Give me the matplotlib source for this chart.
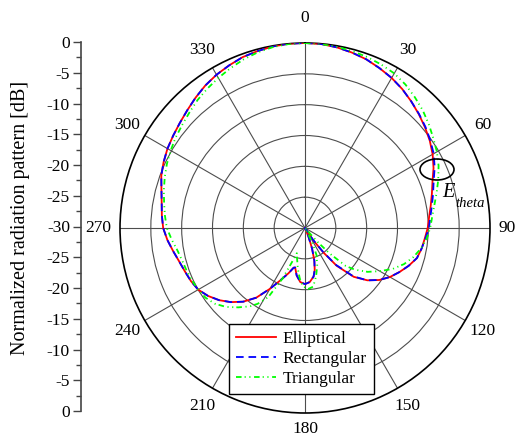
import numpy as np
import matplotlib
matplotlib.use("Agg")
import matplotlib.pyplot as plt
from matplotlib.patches import Ellipse
from matplotlib.ticker import MultipleLocator, FixedLocator, FixedFormatter

plt.rcParams['font.family'] = ['Liberation Serif', 'DejaVu Serif']
plt.rcParams['lines.scale_dashes'] = False

# ---- normalized radiation patterns (E_theta cut), angle in degrees, level in dB ----
theta_ell = [0, 5, 10, 15, 20, 25, 30, 35, 40, 45, 50, 55, 60, 65, 70, 75, 80, 85, 90,
             95, 100, 105, 110, 115, 120, 125, 130, 135, 140, 143, 146, 150, 155, 158,
             161, 164, 167, 170, 175, 180, 185, 190, 194, 196, 200, 205, 210, 215, 220,
             225, 230, 235, 240, 245, 250, 255, 260, 265, 270, 275, 280, 285, 290, 295,
             300, 305, 310, 315, 320, 325, 330, 335, 340, 345, 350, 355, 360]
db_ell = [0.0, -0.05, -0.25, -0.55, -0.9, -1.4, -1.9, -2.5, -3.2, -3.9, -4.6, -5.3, -6.1,
          -7.0, -8.0, -8.7, -9.3, -9.8, -10.1, -10.5, -10.8, -11.2, -12.1, -13.1, -14.1,
          -15.3, -16.8, -18.8, -22.0, -25.0, -27.5, -30.0, -30.0, -28.5, -26.5, -24.5,
          -23.0, -22.0, -21.2, -20.9, -21.2, -22.2, -23.4, -23.3, -22.2, -20.7, -18.6,
          -16.2, -14.4, -13.0, -11.8, -10.8, -10.0, -9.6, -9.3, -8.9, -8.3, -7.6, -7.0,
          -6.7, -6.4, -5.9, -5.2, -4.7, -4.25, -3.9, -3.5, -3.0, -2.4, -1.8, -1.3, -0.9,
          -0.5, -0.3, -0.1, 0.0, 0.0]

theta_rect = theta_ell
db_rect = [0.0, -0.05, -0.25, -0.55, -0.9, -1.4, -1.9, -2.5, -3.2, -3.85, -4.5, -5.2, -5.9,
           -6.8, -7.8, -8.5, -9.1, -9.6, -9.9, -10.4, -10.8, -11.2, -12.1, -13.1, -14.1,
           -15.3, -16.8, -18.9, -22.2, -25.2, -27.8, -30.0, -30.0, -28.5, -26.5, -24.5,
           -23.0, -22.0, -21.2, -20.9, -21.2, -22.2, -23.4, -23.3, -22.2, -20.7, -18.6,
           -16.2, -14.4, -13.0, -11.8, -10.8, -10.0, -9.6, -9.3, -8.9, -8.3, -7.6, -7.0,
           -6.7, -6.4, -5.9, -5.2, -4.7, -4.25, -3.9, -3.5, -3.0, -2.4, -1.8, -1.3, -0.9,
           -0.5, -0.3, -0.1, 0.0, 0.0]

theta_tri = [0, 5, 10, 15, 20, 25, 30, 35, 40, 45, 50, 55, 60, 65, 70, 75, 80, 85, 90,
             95, 100, 105, 110, 115, 120, 125, 130, 133, 136, 138, 140, 150, 153, 157,
             162, 167, 172, 177, 182, 186, 190, 195, 198, 201, 204, 208, 212, 215, 220,
             225, 230, 235, 240, 245, 250, 255, 260, 265, 270, 275, 280, 285, 290, 295,
             300, 305, 310, 315, 320, 325, 330, 335, 340, 345, 350, 355, 360]
db_tri = [0.0, -0.05, -0.15, -0.3, -0.5, -0.75, -1.05, -1.6, -2.3, -3.0, -3.8, -4.6, -5.3,
          -6.1, -7.0, -7.9, -8.7, -9.3, -9.7, -10.2, -10.9, -11.8, -12.9, -14.3, -16.0,
          -17.6, -19.5, -21.0, -24.3, -27.0, -30.0, -30.0, -27.5, -25.2, -23.6, -22.0,
          -20.4, -20.1, -20.5, -21.8, -23.3, -25.0, -25.7, -24.0, -21.0, -17.3, -15.5,
          -14.5, -13.2, -11.9, -10.9, -10.3, -10.0, -9.8, -9.6, -9.4, -9.0, -8.3, -7.6,
          -7.2, -6.8, -6.3, -5.8, -5.3, -4.85, -4.4, -4.0, -3.5, -2.9, -2.4, -1.9, -1.4,
          -0.9, -0.5, -0.2, -0.05, 0.0]

angle_ticks = list(range(0, 360, 30))
ring_levels = [-25, -20, -15, -10, -5]
scale_ticks = list(range(-30, 31, 5))
scale_labels = [str(abs(v) - 30) for v in scale_ticks]

W, H = 517, 437
fig = plt.figure(figsize=(W / 100, H / 100), dpi=100)

# ---- polar pattern ----
ax = fig.add_axes([120 / W, 24 / H, 370 / W, 370 / H], projection='polar')
ax.set_theta_zero_location('N')
ax.set_theta_direction(-1)
ax.set_rlim(-30, 0)

ax.plot(np.deg2rad(theta_ell), db_ell, color='#ff0000', lw=1.3, label='Elliptical', zorder=3)
ax.plot(np.deg2rad(theta_rect), db_rect, color='#0000ff', lw=1.3,
        dashes=(5.5, 3.5), label='Rectangular', zorder=4)
ax.plot(np.deg2rad(theta_tri), db_tri, color='#00ff00', lw=1.3,
        dashes=(4.0, 2.2, 0.8, 2.6, 0.8, 2.6), label='Triangular', zorder=5)

ax.set_thetagrids(angle_ticks, labels=[''] * len(angle_ticks))
ax.set_xticks(np.deg2rad(np.arange(0, 360, 15)), minor=True)
ax.tick_params(axis='x', which='both', direction='in', length=5, width=1, color='black')
ax.xaxis.grid(False, which='minor')
ax.set_rgrids(ring_levels, labels=[''] * len(ring_levels))
ax.tick_params(axis='y', length=0)
ax.grid(True, color='#4d4d4d', lw=0.8)
ax.spines['polar'].set_linewidth(1.2)
ax.spines['polar'].set_color('black')

# angle labels sit just outside the 0 dB circle
label_offset = {0: 4.0, 90: 2.75, 180: 2.6, 270: 3.5}
for a in angle_ticks:
    ax.text(np.deg2rad(a), label_offset.get(a, 3.3), str(a), ha='center', va='center',
            fontsize=12.5, clip_on=False)

leg = ax.legend(loc='upper left', bbox_to_anchor=(229 / W, 1 - 324 / H),
                bbox_transform=fig.transFigure, fontsize=12.5, frameon=True,
                fancybox=False, framealpha=1, edgecolor='black', borderpad=0.4,
                labelspacing=0.22, handlelength=2.3, handletextpad=0.4,
                borderaxespad=0)
leg.get_frame().set_linewidth(1.0)

# ---- linear dB scale on the left ----
sax = fig.add_axes([81 / W, 26 / H, 0.0001, 369 / H])
sax.set_ylim(-30, 30)
sax.yaxis.set_major_locator(FixedLocator(scale_ticks))
sax.yaxis.set_major_formatter(FixedFormatter(scale_labels))
sax.yaxis.set_minor_locator(MultipleLocator(2.5))
sax.tick_params(axis='y', which='major', length=6, width=1, pad=2, labelsize=12.5,
                color='#444444')
sax.tick_params(axis='y', which='minor', length=3.5, width=1, color='#444444')
sax.set_xticks([])
for s in ('top', 'right', 'bottom'):
    sax.spines[s].set_visible(False)
sax.spines['left'].set_color('#444444')
sax.spines['left'].set_linewidth(1.2)
sax.patch.set_visible(False)

fig.text(21 / W, 1 - 217.5 / H, 'Normalized radiation pattern [dB]', rotation=90,
         ha='center', va='center', fontsize=14.5)

# ---- E_theta marker ----
ov = fig.add_axes([0, 0, 1, 1], zorder=6)
ov.set_xlim(0, W)
ov.set_ylim(H, 0)
ov.axis('off')
ov.add_patch(Ellipse((437, 169.5), 34, 21, fill=False, ec='black', lw=1.2))
ov.text(442, 197, 'E', fontsize=14.6, style='italic', ha='left', va='baseline')
ov.text(455.5, 207, 'theta', fontsize=10.5, style='italic', ha='left', va='baseline')

fig.savefig('out.png', dpi=100)
